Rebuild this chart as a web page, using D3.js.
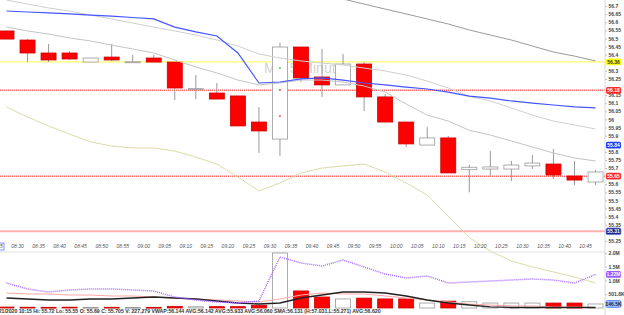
<!DOCTYPE html>
<html>
<head>
<meta charset="utf-8">
<script src="https://cdn.jsdelivr.net/npm/d3@7"></script>
<style>
  body { margin: 0; background: #fff; overflow: hidden; }
  svg { display: block; }
  text { font-family: "Liberation Sans", Arial, sans-serif; }
</style>
</head>
<body>
<svg id="chart" width="624" height="315"></svg>
<script>
// ---- data (5 minute bars, 09/21/2020) ----
const barTimes = ['08:25', '08:30', '08:35', '08:40', '08:45', '08:50', '08:55', '09:00', '09:05', '09:10',
  '09:15', '09:20', '09:25', '09:30', '09:35', '09:40', '09:45', '09:50', '09:55', '10:00',
  '10:05', '10:10', '10:15', '10:20', '10:25', '10:30', '10:35', '10:40', '10:45']

const opens = [56.546, 56.490, 56.410, 56.410, 56.354, 56.385, 56.354, 56.379, 56.354, 56.188,
  56.163, 56.145, 55.984, 55.879, 56.447, 56.262, 56.213, 56.342, 56.139, 55.984,
  55.842, 55.886, 55.690, 55.694, 55.694, 55.713, 55.725, 55.651, 55.614]
const highs = [56.546, 56.496, 56.466, 56.422, 56.379, 56.466, 56.398, 56.398, 56.354, 56.274,
  56.225, 56.145, 56.077, 56.472, 56.447, 56.435, 56.404, 56.354, 56.157, 55.984,
  55.953, 55.898, 55.720, 55.805, 55.744, 55.781, 55.818, 55.744, 55.688]
const lows = [56.496, 56.354, 56.354, 56.367, 56.354, 56.361, 56.354, 56.354, 56.120, 56.126,
  56.126, 55.960, 55.793, 55.775, 56.231, 56.139, 56.213, 56.052, 55.984, 55.830,
  55.842, 55.670, 55.550, 55.651, 55.620, 55.694, 55.633, 55.596, 55.596]
const closes = [56.496, 56.410, 56.367, 56.373, 56.379, 56.367, 56.356, 56.354, 56.194, 56.190,
  56.126, 55.960, 55.929, 56.447, 56.256, 56.213, 56.342, 56.139, 55.984, 55.849,
  55.886, 55.670, 55.705, 55.707, 55.719, 55.731, 55.657, 55.626, 55.676]
const volumes = [35000, 28000, 25000, 30000, 22000, 26000, 20000, 24000, 60000, 45000,
  50000, 50000, 100000, 2000000, 620000, 400000, 330000, 360000, 330000, 330000,
  180000, 250000, 227279, 180000, 180000, 180000, 180000, 180000, 146500]

// price overlays
const vwap = [56.669, 56.663, 56.657, 56.651, 56.644, 56.638, 56.629, 56.620, 56.570, 56.540,
  56.515, 56.410, 56.225, 56.231, 56.250, 56.256, 56.243, 56.225, 56.213, 56.200,
  56.188, 56.169, 56.144, 56.132, 56.114, 56.101, 56.089, 56.077, 56.071]
const avgFast = [56.737, 56.712, 56.688, 56.669, 56.644, 56.620, 56.595, 56.570, 56.546, 56.521,
  56.490, 56.453, 56.404, 56.379, 56.361, 56.348, 56.336, 56.317, 56.299, 56.274,
  56.237, 56.194, 56.142, 56.114, 56.071, 56.027, 55.990, 55.966, 55.941]
const avgMid = [56.570, 56.546, 56.527, 56.503, 56.484, 56.459, 56.435, 56.410, 56.367, 56.324,
  56.287, 56.243, 56.213, 56.225, 56.243, 56.243, 56.231, 56.206, 56.169, 56.095,
  56.027, 55.990, 55.933, 55.904, 55.867, 55.830, 55.793, 55.762, 55.744]
const avgSlow = [null, null, null, null, null, null, null, null, null, null,
  null, null, null, null, null, 56.774, 56.743, 56.712, 56.681, 56.651,
  56.620, 56.589, 56.552, 56.521, 56.490, 56.453, 56.416, 56.391, 56.361]
const bandLower = [56.077, 56.015, 55.960, 55.910, 55.861, 55.836, 55.824, 55.824, 55.805, 55.768,
  55.725, 55.645, 55.559, 55.608, 55.670, 55.700, 55.713, 55.725, 55.676, 55.608,
  55.534, 55.404, 55.271, 55.188, 55.127, 55.090, 55.059, 55.028, 54.991]

// volume overlays
const volAvgPurple = [909000, 691000, 582000, 655000, 691000, 691000, 655000, 618000, 400000, 291000,
  218000, 182000, 255000, 1855000, 1636000, 1527000, 1745000, 1491000, 1236000, 1091000,
  1164000, 909000, 945000, 982000, 1018000, 1055000, 1018000, 909000, 1220000]
const volAvgBlack = [364000, 327000, 291000, 291000, 327000, 327000, 364000, 400000, 364000, 327000,
  255000, 182000, 145000, 182000, 364000, 473000, 582000, 582000, 545000, 436000,
  291000, 182000, 109000, 40000, 20000, 20000, 20000, 20000, 20000]
const volAvgRed = [545000, 509000, 509000, 473000, 473000, 436000, 436000, 400000, 364000, 327000,
  291000, 255000, 218000, 327000, 473000, 545000, 509000, 509000, 436000, 364000,
  291000, 218000, 145000, 109000, 73000, 73000, 36000, 36000, 15000]

// horizontal levels and axis tags
const levelPrices = [56.355, 56.18, 55.65, 55.31]
const levelLabels = ['56.36', '56.18', '55.65', '55.31']
const cursorPrice = 55.842
const cursorLabel = '55.84'
const markerBar = 13
const markerPrices = [56.317, 56.182, 56.021]

const priceTicks = [56.75, 56.7, 56.65, 56.6, 56.55, 56.5, 56.45, 56.4, 56.35, 56.3, 56.25, 56.2,
  56.15, 56.1, 56.05, 56, 55.95, 55.9, 55.85, 55.8, 55.75, 55.7, 55.65, 55.6, 55.55,
  55.5, 55.45, 55.4, 55.35, 55.3, 55.25]
const volumeTicks = [2000000, 1500000, 1000000, 501800]

const statusText = '09/21/2020 10:15 Hi: 55.72 Lo: 55.55 O: 55.69 C: 55.705 V: 227,279 ' +
  'VWAP:56.144 AVG:56.142 AVG:55.933 AVG:56.060 SMA:56.131 (H:57.031,L:55.271) AVG:56.620'
const watermark = 'MU 5 Minute'

// ---- scales ----
const svg = d3.select('#chart')
const parseTime = d3.timeParse('%H:%M')
const axisX = 605

const x = d3.scaleTime()
  .domain([parseTime('08:30'), parseTime('10:45')])
  .range([17, 585])
const halfBar = 2.5 * 60 * 1000
const cx = i => x(new Date(parseTime(barTimes[i]).getTime() + halfBar))
const barW = 15

const yPrice = d3.scaleLinear().domain([55.25, 56.7]).range([241, 6])
const yVol = d3.scaleLinear().domain([0, 2000000]).range([308, 253])

svg.append('rect').attr('width', 624).attr('height', 315).attr('fill', '#fff')

// watermark
svg.append('text')
  .attr('x', 264).attr('y', 73)
  .attr('font-size', 14)
  .attr('fill', '#d2d2d2')
  .text(watermark)

// ---- horizontal levels (behind candles) ----
const levelStyles = [
  { stroke: '#ffff40', width: 1, dash: null },
  { stroke: '#ff6060', width: 1.5, dash: '1,1' },
  { stroke: '#ff6060', width: 1.5, dash: '1,1' },
  { stroke: '#ffb0b0', width: 2, dash: null }
]
levelPrices.forEach((p, i) => {
  svg.append('line')
    .attr('x1', 0).attr('x2', axisX)
    .attr('y1', yPrice(p)).attr('y2', yPrice(p))
    .attr('stroke', levelStyles[i].stroke)
    .attr('stroke-width', levelStyles[i].width)
    .attr('stroke-dasharray', levelStyles[i].dash)
})

// ---- candles ----
const idx = d3.range(barTimes.length)
const isUp = i => closes[i] >= opens[i]

const candles = svg.append('g').attr('id', 'candles')
candles.selectAll('.wick')
  .data(idx)
  .enter()
  .append('line')
  .attr('class', 'wick')
  .attr('x1', i => cx(i)).attr('x2', i => cx(i))
  .attr('y1', i => yPrice(highs[i]))
  .attr('y2', i => yPrice(lows[i]))
  .attr('stroke', '#999')
  .attr('stroke-width', 1)

candles.selectAll('.body')
  .data(idx)
  .enter()
  .append('rect')
  .attr('class', 'body')
  .attr('x', i => cx(i) - barW / 2)
  .attr('width', barW)
  .attr('y', i => yPrice(Math.max(opens[i], closes[i])))
  .attr('height', i => Math.max(1, Math.abs(yPrice(opens[i]) - yPrice(closes[i]))))
  .attr('fill', i => isUp(i) ? '#fff' : '#ff0000')
  .attr('stroke', i => isUp(i) ? '#999' : '#c00')
  .attr('stroke-width', 0.8)

// markers inside the big bar
const markerColors = ['#22bb22', '#ee2222', '#ee2222']
markerPrices.forEach((p, i) => {
  svg.append('circle')
    .attr('cx', cx(markerBar)).attr('cy', yPrice(p))
    .attr('r', 0.9)
    .attr('fill', markerColors[i])
})

// ---- price overlays ----
const priceLine = d3.line()
  .defined(d => d != null)
  .x((d, i) => cx(i))
  .y(d => yPrice(d))

const overlays = [
  { data: avgSlow, stroke: '#9a9a9a', width: 1 },
  { data: avgFast, stroke: '#cfcfcf', width: 1 },
  { data: avgMid, stroke: '#c4c4c4', width: 1 },
  { data: bandLower, stroke: '#dcdca8', width: 1 },
  { data: vwap, stroke: '#4455ff', width: 1.2 }
]
overlays.forEach(o => {
  svg.append('path')
    .datum(o.data)
    .attr('d', priceLine)
    .attr('fill', 'none')
    .attr('stroke', o.stroke)
    .attr('stroke-width', o.width)
})

// ---- x axis (time labels) ----
const xAxis = svg.append('g')
  .attr('class', 'x axis')
  .attr('transform', 'translate(0,241)')
  .call(d3.axisBottom(x)
    .tickValues(barTimes.map(parseTime))
    .tickSize(0)
    .tickPadding(3)
    .tickFormat(d3.timeFormat('%H:%M')))
xAxis.select('.domain').remove()
xAxis.selectAll('text')
  .attr('font-size', 5)
  .attr('font-style', 'italic')
  .attr('fill', '#555')
  .attr('font-family', '"Liberation Sans", Arial, sans-serif')

// cursor box round first time label
svg.append('rect')
  .attr('x', x(parseTime(barTimes[0])) - 10).attr('y', 243)
  .attr('width', 18).attr('height', 7)
  .attr('fill', 'none')
  .attr('stroke', '#6677ff')
  .attr('stroke-width', 0.8)

// separators
svg.append('line')
  .attr('x1', 0).attr('x2', axisX)
  .attr('y1', 252).attr('y2', 252)
  .attr('stroke', '#e2e2e2')

// ---- volume panel ----
const vol = svg.append('g').attr('id', 'volume')
vol.selectAll('rect')
  .data(idx)
  .enter()
  .append('rect')
  .attr('x', i => cx(i) - barW / 2)
  .attr('width', barW)
  .attr('y', i => yVol(volumes[i]))
  .attr('height', i => Math.max(0.8, yVol(0) - yVol(volumes[i])))
  .attr('fill', i => isUp(i) ? '#fff' : '#ff0000')
  .attr('stroke', i => isUp(i) ? '#999' : '#c00')
  .attr('stroke-width', 0.8)

const volLine = d3.line()
  .x((d, i) => cx(i))
  .y(d => yVol(d))

vol.append('path').datum(volAvgRed)
  .attr('d', volLine).attr('fill', 'none')
  .attr('stroke', '#ffa8a8').attr('stroke-width', 1.2)
vol.append('path').datum(volAvgBlack)
  .attr('d', volLine).attr('fill', 'none')
  .attr('stroke', '#222').attr('stroke-width', 1.4)
vol.append('path').datum(volAvgPurple)
  .attr('d', volLine).attr('fill', 'none')
  .attr('stroke', '#a36cff').attr('stroke-width', 1.5)
  .attr('stroke-dasharray', '1,1')

// ---- right axes ----
const priceTags = [yPrice(levelPrices[0]), yPrice(levelPrices[1]), yPrice(cursorPrice),
  yPrice(levelPrices[2]), yPrice(levelPrices[3])]
const volTags = [yVol(volAvgPurple[volAvgPurple.length - 1]), yVol(volumes[volumes.length - 1])]
const underTag = (y, tags) => tags.some(t => Math.abs(t - y) < 4)

svg.append('g')
  .attr('class', 'y axis')
  .attr('transform', 'translate(' + axisX + ',0)')
  .call(d3.axisRight(yPrice)
    .tickValues(priceTicks.filter(p => !underTag(yPrice(p), priceTags)))
    .tickSize(2)
    .tickPadding(1.5)
    .tickFormat(d => String(+d.toFixed(2))))

svg.append('g')
  .attr('class', 'y axis')
  .attr('transform', 'translate(' + axisX + ',0)')
  .call(d3.axisRight(yVol)
    .tickValues(volumeTicks.filter(v => !underTag(yVol(v), volTags)))
    .tickSize(2)
    .tickPadding(1.5)
    .tickFormat(d => d >= 1000000 ? (d / 1000000).toFixed(1) + 'M' : (d / 1000).toFixed(1) + 'K'))

svg.selectAll('.y.axis .domain').remove()
svg.selectAll('.y.axis line').attr('stroke', '#bbb')
svg.selectAll('.y.axis text')
  .attr('font-size', 5)
  .attr('font-weight', 'bold')
  .attr('fill', '#444')
  .attr('font-family', '"Liberation Sans", Arial, sans-serif')

svg.append('line')
  .attr('x1', axisX).attr('x2', axisX)
  .attr('y1', 0).attr('y2', 315)
  .attr('stroke', '#d8d8d8')

// axis tags
function drawTag (y, label, fill, color, stroke) {
  const g = svg.append('g').attr('transform', 'translate(606,' + y + ')')
  g.append('rect')
    .attr('x', 0).attr('y', -3.4)
    .attr('width', 15).attr('height', 6.8)
    .attr('rx', 1.5)
    .attr('fill', fill)
    .attr('stroke', stroke || 'none')
    .attr('stroke-width', 0.8)
  g.append('text')
    .attr('x', 7.5).attr('y', 0)
    .attr('dy', '0.35em')
    .attr('text-anchor', 'middle')
    .attr('font-size', 5)
    .attr('font-weight', 'bold')
    .attr('fill', color)
    .text(label)
}
drawTag(priceTags[0], levelLabels[0], '#ffff00', '#333')
drawTag(priceTags[1], levelLabels[1], '#ff2a2a', '#fff')
drawTag(priceTags[2], cursorLabel, '#2040ff', '#fff')
drawTag(priceTags[3], levelLabels[2], '#ff2a2a', '#fff')
drawTag(priceTags[4], levelLabels[3], '#1a2380', '#fff', '#8899ff')
drawTag(volTags[0], (volAvgPurple[volAvgPurple.length - 1] / 1000000).toFixed(2) + 'M', '#9a5cff', '#fff')
drawTag(volTags[1], (volumes[volumes.length - 1] / 1000).toFixed(1) + 'K', '#9cc0ff', '#223', '#4477ee')

// status line
svg.append('text')
  .attr('x', -8.5).attr('y', 313)
  .attr('font-family', '"Liberation Serif", "Times New Roman", serif')
  .attr('font-size', 5.6)
  .attr('font-weight', 'bold')
  .attr('fill', '#333')
  .attr('textLength', 389)
  .attr('lengthAdjust', 'spacingAndGlyphs')
  .text(statusText)
</script>
</body>
</html>
